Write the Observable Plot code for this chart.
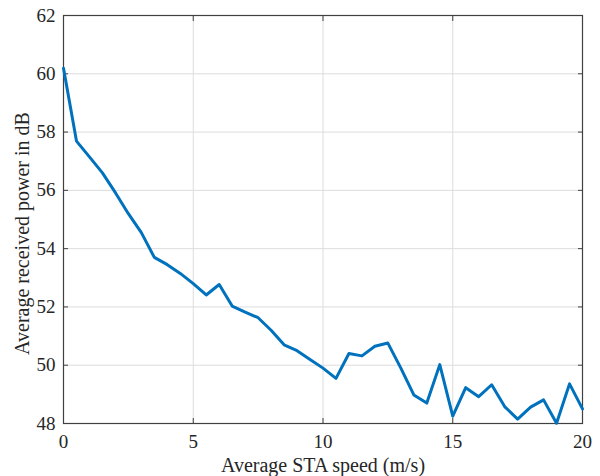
<!DOCTYPE html>
<html><head><meta charset="utf-8">
<script src="https://cdn.jsdelivr.net/npm/d3@7"></script>
<script src="https://cdn.jsdelivr.net/npm/@observablehq/plot@0.6"></script>
<style>body{margin:0;background:#fff;}</style>
</head><body><div id="chart"></div>
<script>
const speed = d3.range(0, 20.01, 0.5);
const power = [60.19, 57.69, 57.15, 56.6, 55.92, 55.2, 54.55, 53.7, 53.45, 53.15, 52.8,
  52.41, 52.77, 52.03, 51.82, 51.63, 51.2, 50.7, 50.5, 50.2, 49.9,
  49.55, 50.4, 50.32, 50.65, 50.76, 49.9, 48.98, 48.7, 50.02, 48.25,
  49.23, 48.92, 49.33, 48.58, 48.15, 48.56, 48.81, 48.01, 49.36, 48.5];
const xTicks = [0, 5, 10, 15, 20];
const yTicks = [48, 50, 52, 54, 56, 58, 60, 62];
const xLabel = "Average STA speed (m/s)";
const yLabel = "Average received power in dB";
const data = speed.map((s, i) => ({speed: s, power: power[i]}));

const FONT = "'Liberation Serif', 'Times New Roman', serif";

const chart = Plot.plot({
  width: 600, height: 476,
  marginLeft: 63, marginRight: 18, marginTop: 15, marginBottom: 53,
  style: {fontFamily: FONT, fontSize: "19px", color: "#262626", background: "#fff"},
  x: {domain: [0, 20]},
  y: {domain: [48, 62]},
  marks: [
    Plot.gridX(xTicks.slice(1, -1), {stroke: "#dcdcdc", strokeOpacity: 1, strokeWidth: 1}),
    Plot.gridY(yTicks.slice(1, -1), {stroke: "#dcdcdc", strokeOpacity: 1, strokeWidth: 1}),
    Plot.frame({stroke: "#404040", strokeWidth: 1.2}),
    Plot.axisX({ticks: xTicks, tickSize: -5, tickPadding: 16, tickFormat: d => d, label: null, stroke: "#404040", fontSize: 19}),
    Plot.axisX({ticks: xTicks, anchor: "top", tickSize: -5, tickFormat: () => "", label: null, stroke: "#404040"}),
    Plot.axisY({ticks: yTicks, tickSize: -5, tickPadding: 13, tickFormat: d => d, label: null, stroke: "#404040", fontSize: 19}),
    Plot.axisY({ticks: yTicks, anchor: "right", tickSize: -5, tickFormat: () => "", label: null, stroke: "#404040"}),
    Plot.text([xLabel], {text: d => d, frameAnchor: "bottom", textAnchor: "middle", lineAnchor: "middle", dy: 42, fontSize: 20, fill: "#262626"}),
    Plot.text([yLabel], {text: d => d, frameAnchor: "left", textAnchor: "middle", lineAnchor: "middle", rotate: -90, dx: -41, dy: 14, fontSize: 20, fill: "#262626"}),
    Plot.line(data, {x: "speed", y: "power", stroke: "#0072BD", strokeWidth: 3})
  ]
});
document.getElementById("chart").append(chart);
</script></body></html>
